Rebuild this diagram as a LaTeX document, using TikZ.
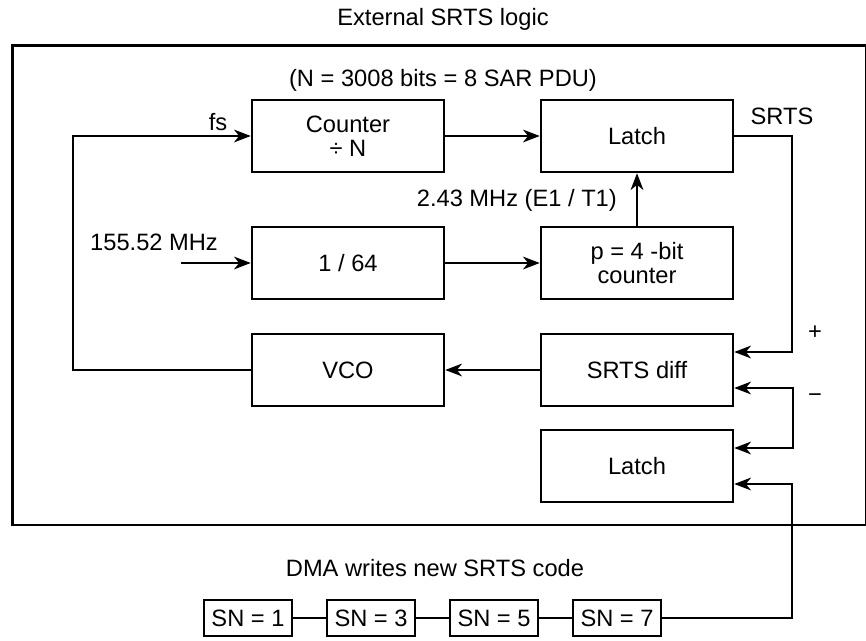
\documentclass[tikz,border=0pt]{standalone}
\usepackage{fontspec}
\setmainfont{Liberation Sans}
\usetikzlibrary{arrows.meta,positioning}

\begin{document}
\begin{tikzpicture}[x=0.03cm,y=-0.03cm,
    font=\fontsize{20.2}{20.5}\selectfont,
    blk/.style={draw,line width=2.1pt,minimum width=5.76cm,
                minimum height=2.16cm,align=center,inner sep=0pt},
    sn/.style={draw,line width=2.1pt,minimum width=2.64cm,
               minimum height=1.08cm,inner sep=0pt},
    lbl/.style={inner sep=0pt},
    wire/.style={line width=2.1pt},
    sig/.style={wire,-{Stealth[length=0.5cm,width=0.38cm,inset=0.15cm]}}]
    \useasboundingbox (0,0) rectangle (866,640);
    \draw[line width=2.4pt] (12.7,45.5) rectangle (866,525);
    % blocks
    \node[blk] (cnt) at (348,136) {Counter\\÷ N};
    \node[blk] (lat) at (637,136) {Latch};
    \node[blk] (div) at (348,263) {1 / 64};
    \node[blk] (pct) at (637,263) {p = 4 -bit\\counter};
    \node[blk] (vco) at (348,370) {VCO};
    \node[blk] (dif) at (637,370) {SRTS diff};
    \node[blk] (lt2) at (637,466) {Latch};
    \foreach \n/\x in {1/248,3/371,5/494,7/617}
      \node[sn] (sn\n) at (\x,618) {SN = \n};
    % labels
    \node[lbl] (ttl)  at (443,19)  {External SRTS logic};
    \node[lbl] (nlbl) at (443,80)  {(N = 3008 bits = 8 SAR PDU)};
    \node[lbl] (fs)   at (218,122) {fs};
    \node[lbl] (srts) at (782,116) {SRTS};
    \node[lbl] (clkl) at (154,242) {155.52 MHz};
    \node[lbl,anchor=east] (e1) at (617,200) {2.43 MHz (E1 / T1)};
    \node[lbl] (plus) at (815,333) {+};
    \node[lbl] (mins) at (815,398) {−};
    \node[lbl] (dma)  at (435,568) {DMA writes new SRTS code};
    % connectors
    \coordinate (clk)   at (181,263);
    \coordinate (fsx)   at (73,136);
    \coordinate (srtsx) at (792,250);
    \coordinate (dmax)  at (792,560);
    \foreach \a/\b in {cnt/lat,div/pct,pct/lat,dif/vco,clk/div}
      \draw[sig] (\a)--(\b);
    \draw[sig] (vco.west) -| (fsx) -- (cnt.west);
    \draw[sig] (lat.east) -| (srtsx) |- ([yshift=0.54cm]dif.east);
    \draw[wire,{Stealth[length=0.5cm,width=0.38cm,inset=0.15cm]}-{Stealth[length=0.5cm,width=0.38cm,inset=0.15cm]}]
      ([yshift=-0.54cm]dif.east) -- ++(59,0) |- ([yshift=0.54cm]lt2.east);
    \draw[sig] (sn7.east) -| (dmax) |- ([yshift=-0.54cm]lt2.east);
    \foreach \a/\b in {sn1/sn3,sn3/sn5,sn5/sn7}
      \draw[wire] (\a)--(\b);
  \end{tikzpicture}
\end{document}
